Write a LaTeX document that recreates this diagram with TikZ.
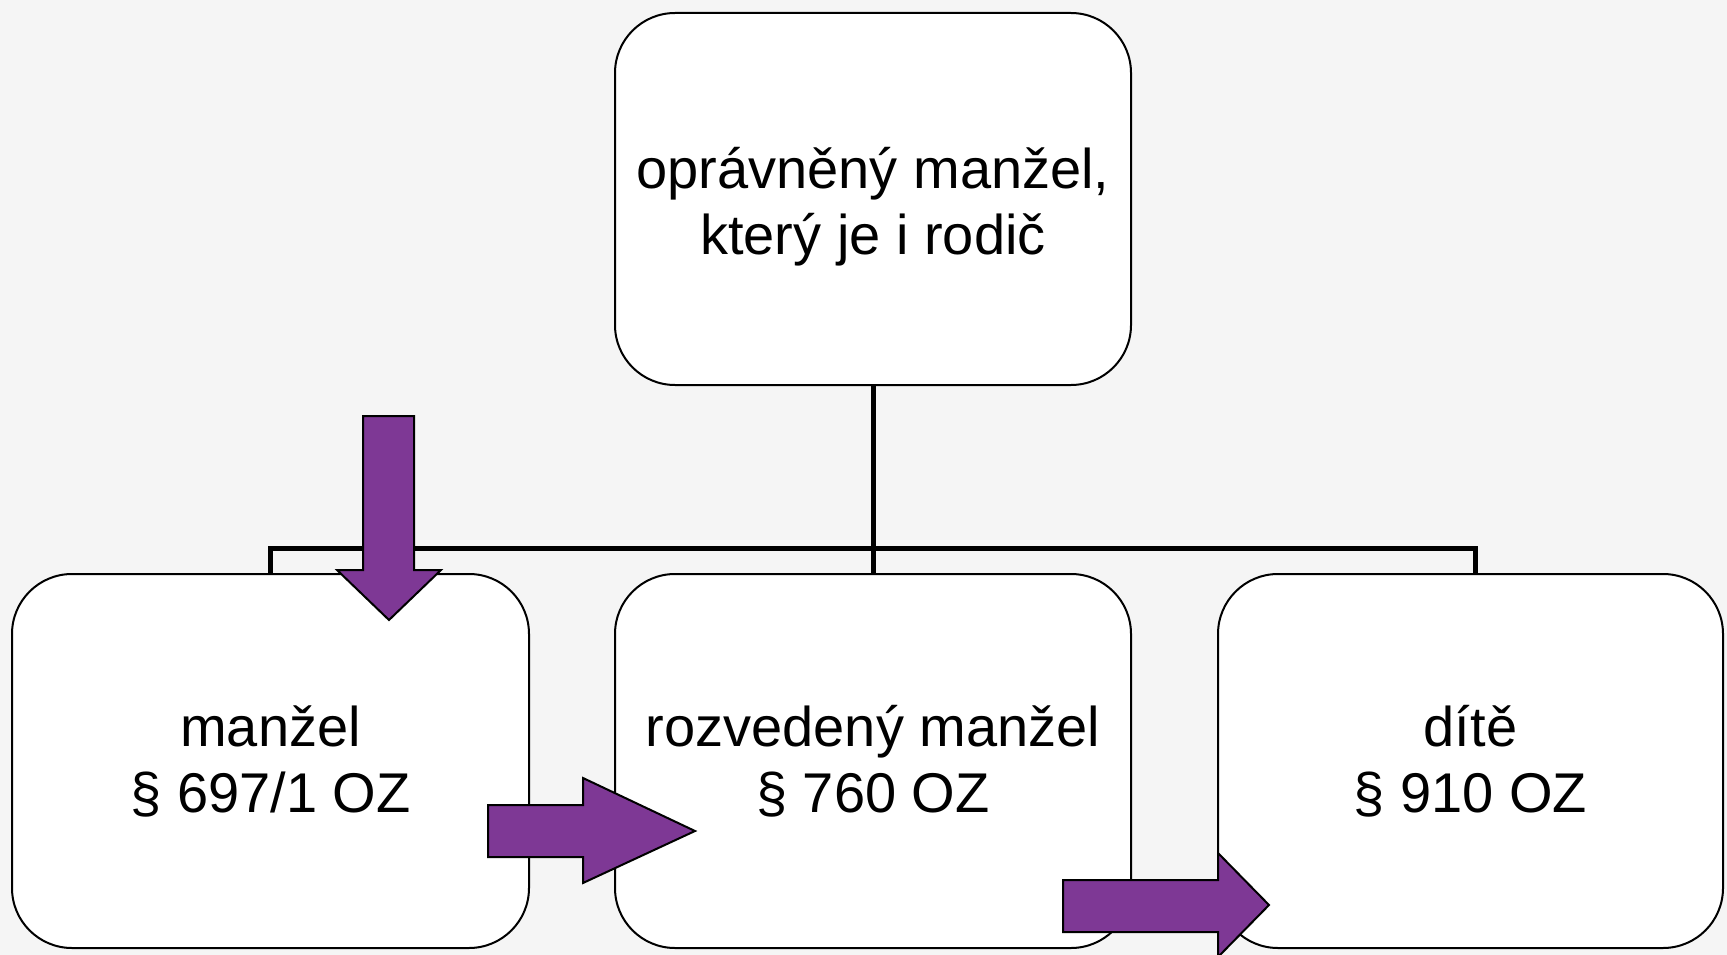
\documentclass[tikz,border=0pt]{standalone}
\usepackage{fontspec}
\setmainfont{Liberation Sans}
\definecolor{bg}{RGB}{245,245,245}
\definecolor{arrowpurple}{RGB}{126,56,149}
\begin{document}
\begin{tikzpicture}[x=1pt,y=-1pt,
  box/.style={draw=black, line width=2pt, fill=white, rounded corners=60pt,
    align=center, inner sep=0pt, font=\fontsize{56}{66}\selectfont},
  conn/.style={draw=black, line width=5pt},
  bigarrow/.style={draw=black, line width=2pt, fill=arrowpurple, line join=miter}]
\fill[bg] (0,0) rectangle (1727,955);
\useasboundingbox (0,0) rectangle (1727,955);
\node[box, minimum width=516pt, minimum height=372pt] (top) at (873,199) {};
\node[align=center, inner sep=0pt, font=\fontsize{56}{66}\selectfont] (toptext) at (873,207) {oprávněný manžel,\\ který je i rodič};
\node[box, minimum width=517pt, minimum height=374pt] (left) at (270.5,761) {manžel\\ § 697/1 OZ};
\node[box, minimum width=516pt, minimum height=374pt] (mid) at (873,761) {rozvedený manžel\\ § 760 OZ};
\node[box, minimum width=505pt, minimum height=374pt] (right) at (1470.5,761) {dítě\\ § 910 OZ};
\coordinate (bus) at (873,548);
\draw[conn] (top.south) -- (bus);
\draw[conn] (left.north) |- (bus) -| ([xshift=5pt]right.north);
\draw[conn] (bus) -- (mid.north);
\draw[bigarrow] (363,416) -- (414,416) -- (414,570) -- (441,570) -- (389,620) -- (337,570) -- (363,570) -- cycle;
\draw[bigarrow] (488,805) -- (583,805) -- (583,778) -- (695,831) -- (583,883) -- (583,857) -- (488,857) -- cycle;
\draw[bigarrow] (1063,880) -- (1218,880) -- (1218,853) -- (1269,905) -- (1218,957) -- (1218,932) -- (1063,932) -- cycle;
\end{tikzpicture}
\end{document}
